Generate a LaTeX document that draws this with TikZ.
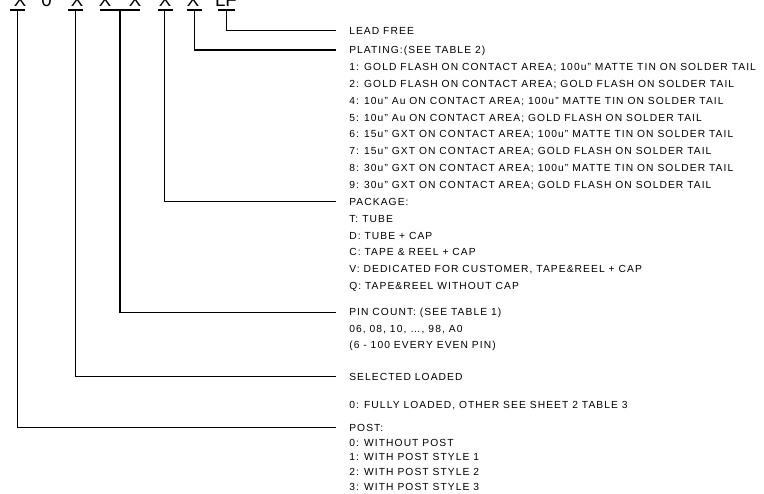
\documentclass[tikz,border=0pt]{standalone}
\usepackage{fontspec}
\setmainfont{Liberation Sans}[LetterSpace=10.5]
\newfontfamily\topfont{Liberation Sans}
\begin{document}
\begin{tikzpicture}[x=0.75pt,y=-0.75pt,
  ln/.style={line width=0.8pt,black},
  keych/.style={anchor=base,inner sep=0pt,font=\topfont\fontsize{14pt}{14pt}\selectfont},
  head/.style={anchor=west,inner xsep=9.75pt,inner ysep=0pt,text height=5.5pt,text depth=0pt,font=\fontsize{7.7pt}{8pt}\selectfont},
  desc/.style={anchor=west,inner sep=0pt,text height=5.5pt,text depth=0pt,font=\fontsize{7.7pt}{8pt}\selectfont}]
\useasboundingbox (0,0) rectangle (764,493);
\clip (0,0) rectangle (764,493);
% key characters (clipped at top, as in the reference)
\node[keych] (k1) at (20,6.7) {X};
\node[keych] (k0) at (46.5,6.7) {0};
\node[keych] (k2) at (77,6.7) {X};
\node[keych] (k3) at (105,6.7) {X};
\node[keych] (k4) at (135,6.7) {X};
\node[keych] (k5) at (165,6.7) {X};
\node[keych] (k6) at (193,6.7) {X};
\node[keych] (k7) at (226,6.7) {LF};
% underlines
\draw[ln] (10,10) -- (25,10);
\draw[ln] (68,10) -- (83,10);
\draw[ln] (100,10) -- (140,10);
\draw[ln] (158,10) -- (173,10);
\draw[ln] (187,10) -- (202,10);
\draw[ln] (218,10) -- (235,10);
\coordinate (c1) at (17.3,10);
\coordinate (c2) at (75.5,10);
\coordinate (c3) at (120,10);
\coordinate (c4) at (164.3,10);
\coordinate (c5) at (194.5,10);
\coordinate (c6) at (226.5,10);
% headings
\node[head] (lf) at (336,30.7) {LEAD FREE};
\node[head] (plat) at (336,50) {PLATING:(SEE TABLE 2)};
\node[head] (pack) at (336,201.7) {PACKAGE:};
\node[head] (pin) at (336,312.3) {PIN COUNT: (SEE TABLE 1)};
\node[head] (sel) at (336,376.7) {SELECTED LOADED};
\node[head] (post) at (336,427.7) {POST:};
% connectors
\draw[ln] (c6) |- (lf.west);
\draw[ln] (c5) |- (plat.west);
\draw[ln] (c4) |- (pack.west);
\draw[ln] (c3) |- (pin.west);
\draw[ln] (c2) |- (sel.west);
\draw[ln] (c1) |- (post.west);
% plating lines
\node[desc] (p1) at (349,66.85) {1: GOLD FLASH ON CONTACT AREA; 100u" MATTE TIN ON SOLDER TAIL};
\node[desc] (p2) at (349,83.7) {2: GOLD FLASH ON CONTACT AREA; GOLD FLASH ON SOLDER TAIL};
\node[desc] (p4) at (349,100.55) {4: 10u" Au ON CONTACT AREA; 100u" MATTE TIN ON SOLDER TAIL};
\node[desc] (p5) at (349,117.4) {5: 10u" Au ON CONTACT AREA; GOLD FLASH ON SOLDER TAIL};
\node[desc] (p6) at (349,134.25) {6: 15u" GXT ON CONTACT AREA; 100u" MATTE TIN ON SOLDER TAIL};
\node[desc] (p7) at (349,151.1) {7: 15u" GXT ON CONTACT AREA; GOLD FLASH ON SOLDER TAIL};
\node[desc] (p8) at (349,167.95) {8: 30u" GXT ON CONTACT AREA; 100u" MATTE TIN ON SOLDER TAIL};
\node[desc] (p9) at (349,184.8) {9: 30u" GXT ON CONTACT AREA; GOLD FLASH ON SOLDER TAIL};
% package lines
\node[desc] (kT) at (349,218.5) {T: TUBE};
\node[desc] (kD) at (349,235.4) {D: TUBE + CAP};
\node[desc] (kC) at (349,252.2) {C: TAPE \& REEL + CAP};
\node[desc] (kV) at (349,269.1) {V: DEDICATED FOR CUSTOMER, TAPE\&REEL + CAP};
\node[desc] (kQ) at (349,285.9) {Q: TAPE\&REEL WITHOUT CAP};
% pin count
\node[desc] (n1) at (349,328.5) {06, 08, 10, \dots, 98, A0};
\node[desc] (n2) at (349,344.7) {(6 - 100 EVERY EVEN PIN)};
% selected loaded
\node[desc] (s1) at (349,405) {0: FULLY LOADED, OTHER SEE SHEET 2 TABLE 3};
% post
\node[desc] (q0) at (349,442.5) {0: WITHOUT POST};
\node[desc] (q1) at (349,457.2) {1: WITH POST STYLE 1};
\node[desc] (q2) at (349,471.9) {2: WITH POST STYLE 2};
\node[desc] (q3) at (349,486.6) {3: WITH POST STYLE 3};
\end{tikzpicture}
\end{document}
